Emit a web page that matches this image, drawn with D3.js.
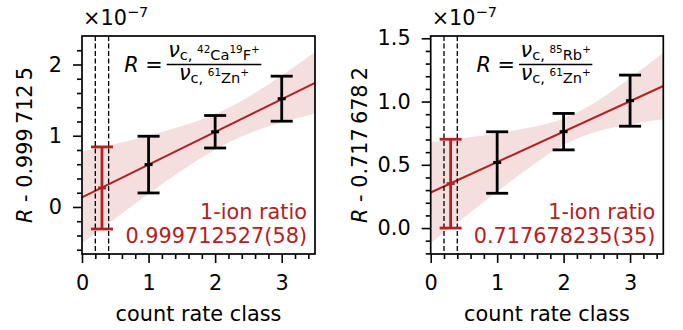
<!DOCTYPE html>
<html>
<head>
<meta charset="utf-8">
<script src="https://cdn.jsdelivr.net/npm/d3@7"></script>
<style>
  body { margin: 0; background: #fff; }
  svg { display: block; font-family: "DejaVu Sans", sans-serif; }
</style>
</head>
<body>
<svg id="chart"></svg>
<script>
const W = 683, H = 330;
const red = "#b22222";

// count rate classes (x) and the common x ticks
const countClass = [1, 2, 3];
const xMajorTicks = [0, 1, 2, 3];
const oneIonX = 0.3;
const gateLines = [0.2, 0.4];

// 42Ca19F+ / 61Zn+  (values are R - 0.9997125, in 1e-7)
const caRatio = [0.595, 1.056, 1.520];
const caErr = [0.398, 0.228, 0.316];
const caOneIon = 0.267, caOneIonErr = 0.576;
const caFitX = [0, 3.5];
const caFitY = [0.136, 1.742];
const caBandX = [0, 0.5, 1, 1.5, 2, 2.5, 3, 3.5];
const caBandHi = [0.78, 0.885, 1.00, 1.135, 1.305, 1.545, 1.845, 2.175];
const caBandLo = [-0.51, -0.16, 0.185, 0.515, 0.805, 1.03, 1.19, 1.31];
const caYTicks = [0, 1, 2];

// 85Rb+ / 61Zn+  (values are R - 0.7176782, in 1e-7)
const rbRatio = [0.518, 0.762, 1.007];
const rbErr = [0.243, 0.144, 0.202];
const rbOneIon = 0.351, rbOneIonErr = 0.351;
const rbFitX = [0, 3.5];
const rbFitY = [0.281, 1.123];
const rbBandX = [0, 0.5, 1, 1.5, 2, 2.5, 3, 3.5];
const rbBandHi = [0.678, 0.711, 0.750, 0.795, 0.866, 1.003, 1.187, 1.386];
const rbBandLo = [-0.118, 0.083, 0.288, 0.485, 0.656, 0.763, 0.821, 0.860];
const rbYTicks = [0, 0.5, 1.0, 1.5];

const svg = d3.select("#chart").attr("width", W).attr("height", H);

function drawPanel(p) {
  const x = d3.scaleLinear().domain([0, 3.5]).range([p.left, p.right]);
  const y = d3.scaleLinear().domain(p.yDomain).range([p.bottom, p.top]);
  const g = svg.append("g");

  // confidence band
  const band = p.bandX.map((v, i) => ({ x: v, lo: p.bandLo[i], hi: p.bandHi[i] }));
  g.append("path")
    .datum(band)
    .attr("fill", red)
    .attr("fill-opacity", 0.15)
    .attr("d", d3.area().x(d => x(d.x)).y0(d => y(d.lo)).y1(d => y(d.hi)).curve(d3.curveNatural));

  // linear fit
  g.append("line")
    .attr("x1", x(p.fitX[0])).attr("y1", y(p.fitY[0]))
    .attr("x2", x(p.fitX[1])).attr("y2", y(p.fitY[1]))
    .attr("stroke", red).attr("stroke-width", 2);

  // class-0 gate
  g.selectAll(".gate").data(gateLines).enter().append("line")
    .attr("x1", d => x(d)).attr("x2", d => x(d))
    .attr("y1", p.top).attr("y2", p.bottom)
    .attr("stroke", "#000").attr("stroke-width", 1.3)
    .attr("stroke-dasharray", "5,2.5");

  // error bars
  const pts = countClass.map((c, i) => ({ x: c, y: p.ratio[i], e: p.err[i], color: "#000" }));
  pts.unshift({ x: oneIonX, y: p.oneIon, e: p.oneIonErr, color: red });
  const eb = g.selectAll(".eb").data(pts).enter().append("g");
  eb.append("line")
    .attr("x1", d => x(d.x)).attr("x2", d => x(d.x))
    .attr("y1", d => y(d.y - d.e)).attr("y2", d => y(d.y + d.e))
    .attr("stroke", d => d.color).attr("stroke-width", 2.8);
  [-1, 1].forEach(s => {
    eb.append("line")
      .attr("x1", d => x(d.x) - 11).attr("x2", d => x(d.x) + 11)
      .attr("y1", d => y(d.y + s * d.e)).attr("y2", d => y(d.y + s * d.e))
      .attr("stroke", d => d.color).attr("stroke-width", 2.8);
  });
  eb.append("line")
    .attr("x1", d => x(d.x) - 4).attr("x2", d => x(d.x) + 4)
    .attr("y1", d => y(d.y)).attr("y2", d => y(d.y))
    .attr("stroke", d => d.color).attr("stroke-width", 3);

  // axes
  const xMinor = d3.range(0, 18).map(i => i * 0.2).filter(v => Math.abs(v - Math.round(v)) > 1e-6);
  g.append("g").attr("transform", `translate(0,${p.bottom})`)
    .call(d3.axisBottom(x).tickValues(xMinor).tickSize(5).tickFormat(""));
  g.append("g").attr("transform", `translate(0,${p.bottom})`)
    .call(d3.axisBottom(x).tickValues(xMajorTicks).tickSize(9).tickPadding(12).tickFormat(d3.format("d")));

  const yMinor = d3.range(-30, 40).map(i => i * p.yMinorStep)
    .filter(v => v >= p.yDomain[0] && v <= p.yDomain[1])
    .filter(v => Math.abs(v / p.yMajorStep - Math.round(v / p.yMajorStep)) > 1e-6);
  g.append("g").attr("transform", `translate(${p.left},0)`)
    .call(d3.axisLeft(y).tickValues(yMinor).tickSize(5).tickFormat(""));
  g.append("g").attr("transform", `translate(${p.left},0)`)
    .call(d3.axisLeft(y).tickValues(p.yTicks).tickSize(9).tickPadding(11).tickFormat(p.yFmt));

  g.selectAll(".domain").remove();
  g.selectAll(".tick line").attr("stroke", "#000").attr("stroke-width", 1.6);
  g.selectAll(".tick text").attr("font-size", 20.8).attr("font-family", "DejaVu Sans").attr("fill", "#000");

  g.append("rect")
    .attr("x", p.left).attr("y", p.top)
    .attr("width", p.right - p.left).attr("height", p.bottom - p.top)
    .attr("fill", "none").attr("stroke", "#000").attr("stroke-width", 1.7);

  // axis labels
  g.append("text")
    .attr("x", (p.left + p.right) / 2).attr("y", 321)
    .attr("text-anchor", "middle").attr("font-size", 20.8)
    .text("count rate class");

  const yl = g.append("text")
    .attr("transform", `translate(${p.yLabelX},${(p.top + p.bottom) / 2}) rotate(-90)`)
    .attr("text-anchor", "middle").attr("font-size", 20.8);
  yl.append("tspan").attr("font-style", "italic").text("R");
  yl.append("tspan").text(" - " + p.offset);

  // offset text
  const off = g.append("text").attr("x", p.left + 1).attr("y", 25).attr("font-size", 20.8);
  off.append("tspan").text("×10");
  off.append("tspan").attr("font-size", 14.6).attr("dy", -8.5).text("−7");

  // 1-ion ratio annotation
  g.append("text")
    .attr("x", p.right - 8).attr("y", 219)
    .attr("text-anchor", "end").attr("font-size", 20.8).attr("fill", red)
    .text("1-ion ratio");
  g.append("text")
    .attr("x", p.right - 8).attr("y", 243)
    .attr("text-anchor", "end").attr("font-size", 20.8).attr("fill", red)
    .text(p.oneIonLabel);

  // formula R = nu_num / nu_den
  const cx = p.left + p.formulaDx;
  const barY = 64.5;
  function frac(yb, parts) {
    const t = g.append("text").attr("x", cx).attr("y", yb).attr("text-anchor", "middle").attr("font-size", 20.8);
    t.append("tspan").attr("font-style", "italic").text("ν");
    let level = 0;
    parts.forEach(([txt, kind]) => {
      const target = kind === "sup" ? -3.5 : 3;
      t.append("tspan")
        .attr("font-size", kind === "sup" ? 10.4 : 14.6)
        .attr("dy", target - level)
        .text(txt);
      level = target;
    });
    return t;
  }
  const num = frac(barY - 8, p.numParts);
  const den = frac(barY + 15, p.denParts);
  const w = Math.max(num.node().getComputedTextLength(), den.node().getComputedTextLength()) + 3;
  g.append("line")
    .attr("x1", cx - w / 2).attr("x2", cx + w / 2)
    .attr("y1", barY).attr("y2", barY)
    .attr("stroke", "#000").attr("stroke-width", 1.5);
  const lhs = g.append("text").attr("x", cx - w / 2 - 4).attr("y", 72)
    .attr("text-anchor", "end").attr("font-size", 20.8);
  lhs.append("tspan").attr("font-style", "italic").text("R");
  lhs.append("tspan").text(" =");
}

drawPanel({
  left: 82, right: 315, top: 36, bottom: 254,
  yDomain: [-0.66, 2.40], yTicks: caYTicks, yMajorStep: 1, yMinorStep: 0.2,
  yFmt: d3.format("d"),
  ratio: caRatio, err: caErr, oneIon: caOneIon, oneIonErr: caOneIonErr,
  fitX: caFitX, fitY: caFitY, bandX: caBandX, bandHi: caBandHi, bandLo: caBandLo,
  yLabelX: 32, offset: "0.999\u2009712\u20095",
  oneIonLabel: "0.999712527(58)",
  formulaDx: 132,
  numParts: [["c, ", "sub"], ["42", "sup"], ["Ca", "sub"], ["19", "sup"], ["F", "sub"], ["+", "sup"]],
  denParts: [["c, ", "sub"], ["61", "sup"], ["Zn", "sub"], ["+", "sup"]]
});

drawPanel({
  left: 430.7, right: 663.3, top: 36, bottom: 254,
  yDomain: [-0.205, 1.518], yTicks: rbYTicks, yMajorStep: 0.5, yMinorStep: 0.1,
  yFmt: d3.format(".1f"),
  ratio: rbRatio, err: rbErr, oneIon: rbOneIon, oneIonErr: rbOneIonErr,
  fitX: rbFitX, fitY: rbFitY, bandX: rbBandX, bandHi: rbBandHi, bandLo: rbBandLo,
  yLabelX: 367, offset: "0.717\u2009678\u20092",
  oneIonLabel: "0.717678235(35)",
  formulaDx: 125,
  numParts: [["c, ", "sub"], ["85", "sup"], ["Rb", "sub"], ["+", "sup"]],
  denParts: [["c, ", "sub"], ["61", "sup"], ["Zn", "sub"], ["+", "sup"]]
});
</script>
</body>
</html>
